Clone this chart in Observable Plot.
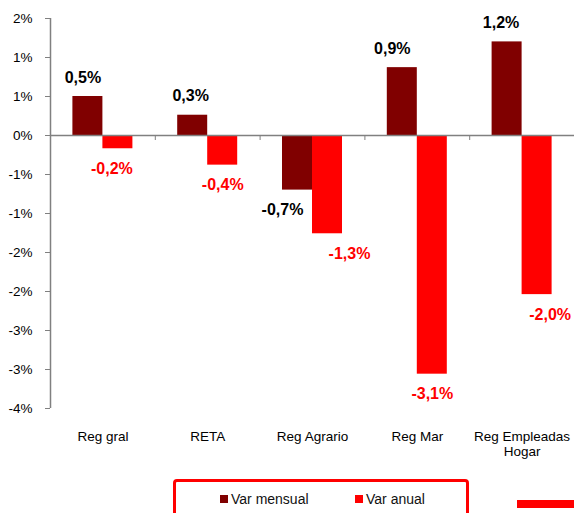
<!DOCTYPE html>
<html>
<head>
<meta charset="utf-8">
<script src="https://cdn.jsdelivr.net/npm/d3@7"></script>
<script src="https://cdn.jsdelivr.net/npm/@observablehq/plot@0.6"></script>
<style>
  html, body { margin: 0; padding: 0; background: #fff; }
  body { font-family: "Liberation Sans", Arial, sans-serif; }
  #wrap { position: relative; width: 574px; height: 513px; overflow: hidden; background: #fff; }
  #chart svg { display: block; }
  .legend-box { position: absolute; left: 173px; top: 479px; width: 290px; height: 60px;
    border: 3px solid #ff0000; border-radius: 4px; box-sizing: content-box; }
  .sw { position: absolute; width: 8px; height: 8px; }
  .lt { position: absolute; font-size: 14px; line-height: 16px; color: #111; white-space: nowrap; }
  .deco { position: absolute; left: 517px; top: 500px; width: 57px; height: 8px; background: #ff0000; }
</style>
</head>
<body>
<div id="wrap">
  <div id="chart"></div>
  <div class="legend-box"></div>
  <div id="legend"></div>
  <div class="deco"></div>
</div>
<script>
// ---- data ----
const categories = ["Reg gral", "RETA", "Reg Agrario", "Reg Mar", "Reg Empleadas Hogar"];
const categoryLabels = ["Reg gral", "RETA", "Reg Agrario", "Reg Mar", "Reg Empleadas\nHogar"];
const series = ["Var mensual", "Var anual"];
const varMensual = [0.50, 0.26, -0.70, 0.87, 1.20];
const varAnual = [-0.17, -0.38, -1.26, -3.06, -2.04];
const yTicks = [1.5, 1, 0.5, 0, -0.5, -1, -1.5, -2, -2.5, -3, -3.5];
const yTickLabels = ["2%", "1%", "1%", "0%", "-1%", "-1%", "-2%", "-2%", "-3%", "-3%", "-4%"];
const yDomain = [-3.5, 1.5];
const colors = ["#800000", "#ff0000"];
const labelColors = ["#000000", "#ff0000"];

// ---- layout ----
const W = 574, H = 470, mL = 50, mR = 0, mT = 18, mB = 62;
const bw = (W - mL - mR) / categories.length;
const barW = 30;
const outer = (bw - 2 * barW) / 2;
// horizontal nudges of the data labels (pixels), as placed in the original
const nudgeMensual = [-5, -2, -15, -10, -6];
const nudgeAnual = [-6, 0, 22, 0, 13];
const fmt = v => v.toFixed(1).replace(".", ",") + "%";

const rows = categories.flatMap((c, i) => [
  {cat: c, series: series[0], value: varMensual[i], i},
  {cat: c, series: series[1], value: varAnual[i], i}
]);
const mens = rows.filter(d => d.series === series[0]);
const anual = rows.filter(d => d.series === series[1]);

const labelStyle = {fontWeight: "bold", fontSize: 16, fontFamily: "Liberation Sans, Arial, sans-serif"};

function labelMarks(list, side, nudges, color) {
  return list.map(d => Plot.text([d], {
    x: "cat", y: "value", text: r => fmt(r.value),
    dx: side * barW / 2 + nudges[d.i],
    dy: d.value >= 0 ? -19 : 20,
    fill: color, ...labelStyle
  }));
}

const plot = Plot.plot({
  width: W, height: H,
  marginLeft: mL, marginRight: mR, marginTop: mT, marginBottom: mB,
  style: {fontFamily: "Liberation Sans, Arial, sans-serif", fontSize: "13.5px", background: "#fff", color: "#000"},
  x: {domain: categories, padding: 0, round: false, label: null},
  y: {domain: yDomain, label: null},
  marks: [
    Plot.axisY({ticks: yTicks, tickFormat: d => yTickLabels[yTicks.indexOf(d)], tickSize: 5, tickPadding: 13,
      stroke: "#808080", fill: "#000", label: null}),
    Plot.axisX({tickSize: 0, tickPadding: 22, lineHeight: 1.11, fill: "#000",
      tickFormat: d => categoryLabels[categories.indexOf(d)], label: null}),
    Plot.barY(mens, {x: "cat", y: "value", fill: colors[0], insetLeft: outer, insetRight: bw - outer - barW}),
    Plot.barY(anual, {x: "cat", y: "value", fill: colors[1], insetLeft: outer + barW, insetRight: outer}),
    Plot.ruleY([0], {stroke: "#808080", strokeWidth: 1.5}),
    Plot.ruleX(categories.slice(1), {x: d => d, y1: 0, y2: 0, dx: -bw / 2, insetBottom: -5, stroke: "#808080"}),
    Plot.ruleX([categories[0]], {x: d => d, y1: yDomain[0], y2: yDomain[1], dx: -bw / 2, stroke: "#808080", strokeWidth: 1.5}),
    ...labelMarks(mens, -1, nudgeMensual, labelColors[0]),
    ...labelMarks(anual, 1, nudgeAnual, labelColors[1])
  ]
});
document.getElementById("chart").appendChild(plot);

// ---- legend ----
const legendPos = [{sw: 220, tx: 231}, {sw: 355, tx: 366}];
const leg = document.getElementById("legend");
series.forEach((s, i) => {
  const sw = document.createElement("div");
  sw.className = "sw";
  sw.style.left = legendPos[i].sw + "px";
  sw.style.top = "495px";
  sw.style.background = colors[i];
  leg.appendChild(sw);
  const t = document.createElement("div");
  t.className = "lt";
  t.style.left = legendPos[i].tx + "px";
  t.style.top = "491px";
  t.textContent = s;
  leg.appendChild(t);
});
</script>
</body>
</html>
